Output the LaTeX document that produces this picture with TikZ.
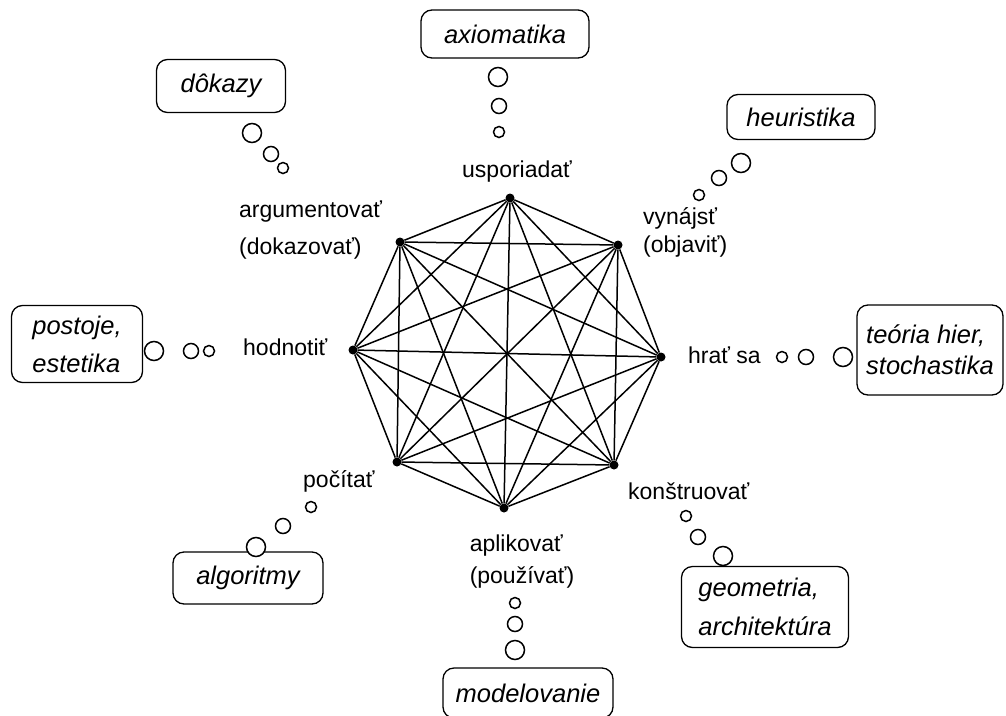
\documentclass[tikz,border=0pt]{standalone}
\usepackage{fontspec}
\setmainfont{Liberation Sans}
\usetikzlibrary{shapes,positioning}

\tikzset{
  vertex/.style={circle, fill=black, inner sep=0pt, minimum size=9pt},
  bubble/.style={circle, draw, line width=1.5pt, inner sep=0pt, minimum size=#1},
  topic/.style={draw, rounded corners=11pt, line width=1.3pt, align=left,
    font=\fontsize{25.5}{31}\selectfont\itshape, inner sep=0pt},
  verb/.style={font=\fontsize{23}{28}\selectfont, align=left, inner sep=0pt}
}

\begin{document}
\begin{tikzpicture}[x=1pt,y=-1pt]
  \useasboundingbox (0,0) rectangle (1006,715);

  % the octagon of activities
  \node[vertex] (v1) at (510,198) {};
  \node[vertex] (v2) at (618,245) {};
  \node[vertex] (v3) at (661,357) {};
  \node[vertex] (v4) at (614,465) {};
  \node[vertex] (v5) at (504,508) {};
  \node[vertex] (v6) at (397,462) {};
  \node[vertex] (v7) at (353,350) {};
  \node[vertex] (v8) at (400,242) {};

  \foreach \i [evaluate=\i as \k using int(\i+1)] in {1,...,7}
    \foreach \j in {\k,...,8}
      \draw[line width=1.5pt] (v\i) -- (v\j);

  % verbs at the vertices (base = last line)
  \node[verb, anchor=base] (usp) at (517,177) {usporiadať};
  \node[verb, anchor=base west] (arg) at (239,254) {argumentovať\\[9pt](dokazovať)};
  \node[verb, anchor=base west] (vyn) at (643,252) {vynájsť\\(objaviť)};
  \node[verb, anchor=base west] (hod) at (243,355) {hodnotiť};
  \node[verb, anchor=base west] (hra) at (688,363) {hrať sa};
  \node[verb, anchor=base west] (poc) at (303,487) {počítať};
  \node[verb, anchor=base west] (kon) at (628,499) {konštruovať};
  \node[verb, anchor=base] (apl) at (522,583) {aplikovať\\[4pt](používať)};

  % fields
  \node[topic, minimum width=168pt, minimum height=48pt] (axi) at (505,34) {axiomatika};
  \node[topic, minimum width=129pt, minimum height=53pt] (dok) at (221,86) {dôkazy};
  \node[topic, minimum width=148pt, minimum height=45pt] (heu) at (801,117) {heuristika};
  \node[topic, minimum width=131pt, minimum height=77pt] (pos) at (77,344) {postoje,\\[7pt]estetika};
  \node[topic, minimum width=146pt, minimum height=90pt] (teo) at (930,350) {teória hier,\\stochastika};
  \node[topic, minimum width=150pt, minimum height=52pt] (alg) at (248,578) {algoritmy};
  \node[topic, minimum width=170pt, minimum height=50pt] (mod) at (528,693) {modelovanie};
  \node[topic, minimum width=167pt, minimum height=81pt] (geo) at (765,607) {geometria,\\[8pt]architektúra};

  % thought bubbles
  \node[bubble=19pt] (axi1) at (498,77) {};
  \node[bubble=15pt] (axi2) at (499,106) {};
  \node[bubble=11pt] (axi3) at (499,132) {};

  \node[bubble=19pt] (dok1) at (252,133) {};
  \node[bubble=15pt] (dok2) at (271,154) {};
  \node[bubble=11pt] (dok3) at (283,168) {};

  \node[bubble=19pt] (heu1) at (741,163) {};
  \node[bubble=15pt] (heu2) at (719,178) {};
  \node[bubble=11pt] (heu3) at (699,195) {};

  \node[bubble=19pt] (pos1) at (154,351) {};
  \node[bubble=15pt] (pos2) at (191,351) {};
  \node[bubble=11pt] (pos3) at (209,351) {};

  \node[bubble=11pt] (teo3) at (782,357) {};
  \node[bubble=15pt] (teo2) at (806,357) {};
  \node[bubble=19pt] (teo1) at (843,357) {};

  \node[bubble=19pt, fill=white] (alg1) at (256,547) {};
  \node[bubble=15pt] (alg2) at (283,526) {};
  \node[bubble=11pt] (alg3) at (311,507) {};

  \node[bubble=11pt] (mod3) at (515,603) {};
  \node[bubble=15pt] (mod2) at (515,624) {};
  \node[bubble=19pt] (mod1) at (515,650) {};

  \node[bubble=11pt] (geo3) at (686,516) {};
  \node[bubble=15pt] (geo2) at (698,537) {};
  \node[bubble=19pt] (geo1) at (723,556) {};
\end{tikzpicture}
\end{document}
